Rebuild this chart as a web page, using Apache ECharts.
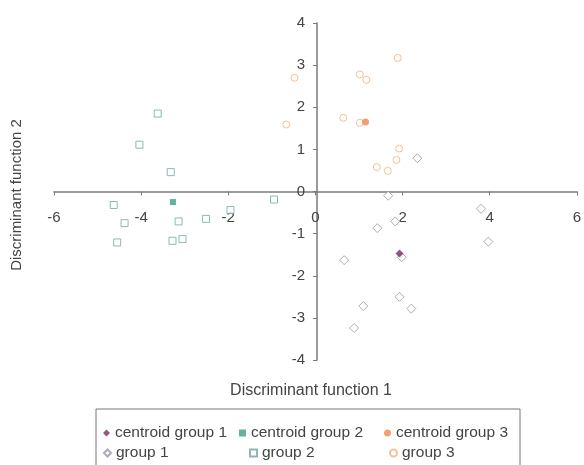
<!DOCTYPE html>
<html>
<head>
<meta charset="utf-8">
<script src="https://cdn.jsdelivr.net/npm/echarts@6/dist/echarts.min.js"></script>
<style>
  html, body { margin: 0; padding: 0; background: #fff; }
  #main { width: 584px; height: 465px; }
</style>
</head>
<body>
<div id="main"></div>
<script>
// values
const xTicks = [-6, 6, 2];
const yTicks = [-4, 4, 1];
const group1 = [[2.34, 0.79], [1.67, -0.1], [3.80, -0.41], [1.83, -0.71], [1.42, -0.87], [3.97, -1.19],
  [0.66, -1.63], [1.98, -1.56], [1.93, -2.5], [1.10, -2.72], [2.20, -2.78], [0.89, -3.24]];
const group2 = [[-3.62, 1.85], [-4.04, 1.11], [-3.32, 0.46], [-4.63, -0.32], [-4.38, -0.75], [-4.55, -1.21],
  [-3.14, -0.71], [-3.28, -1.17], [-3.05, -1.13], [-2.51, -0.65], [-1.95, -0.44], [-0.95, -0.19]];
const group3 = [[1.89, 3.17], [1.02, 2.78], [1.17, 2.65], [-0.48, 2.70], [-0.67, 1.59], [0.64, 1.75],
  [1.02, 1.63], [1.92, 1.02], [1.86, 0.75], [1.41, 0.58], [1.66, 0.49]];
const centroid1 = [[1.93, -1.47]];
const centroid2 = [[-3.27, -0.25]];
const centroid3 = [[1.15, 1.65]];

const font = "Liberation Sans";
const axisCol = "#7a7a7a";
const textCol = "#444";

const chart = echarts.init(document.getElementById("main"));

// plot box; the axes are shifted in to cross at the origin
const gLeft = 54, gRight = 4, gTop = 23, gBottom = 105;
const plotW = 584 - gLeft - gRight, plotH = 465 - gTop - gBottom;
const yAxisShift = plotW * (0 - xTicks[0]) / (xTicks[1] - xTicks[0]);
const xAxisShift = plotH * (0 - yTicks[0]) / (yTicks[1] - yTicks[0]);

function hollow(name, data, symbol, col, size) {
  return {
    name: name, type: "scatter", data: data, symbol: symbol, symbolSize: size,
    itemStyle: { color: "#fff", borderColor: col, borderWidth: 1 }, z: 2
  };
}
function filled(name, data, symbol, col, size) {
  return {
    name: name, type: "scatter", data: data, symbol: symbol, symbolSize: size,
    itemStyle: { color: col }, z: 3
  };
}

// one legend per slot so the two rows line up in columns
const legendSlots = [
  ["centroid group 1", 98, 420], ["centroid group 2", 234, 420], ["centroid group 3", 379, 420],
  ["group 1", 98, 440], ["group 2", 244, 440], ["group 3", 384, 440]
];

chart.setOption({
  animation: false,
  textStyle: { fontFamily: font },
  grid: { left: gLeft, right: gRight, top: gTop, bottom: gBottom },
  xAxis: {
    type: "value", min: xTicks[0], max: xTicks[1], interval: xTicks[2],
    offset: -xAxisShift,
    axisLine: { onZero: false, lineStyle: { color: axisCol, width: 1.5 } },
    axisTick: { show: true, length: 4, lineStyle: { color: axisCol } },
    axisLabel: { color: textCol, fontSize: 15, margin: 19, fontFamily: font },
    splitLine: { show: false }
  },
  yAxis: {
    type: "value", min: yTicks[0], max: yTicks[1], interval: yTicks[2],
    offset: -yAxisShift,
    axisLine: { onZero: false, lineStyle: { color: axisCol, width: 1.5 } },
    axisTick: { show: true, length: 4, lineStyle: { color: axisCol } },
    axisLabel: { color: textCol, fontSize: 15, margin: 12, fontFamily: font },
    splitLine: { show: false }
  },
  legend: legendSlots.map(function (s) {
    return {
      data: [s[0]], left: s[1], top: s[2], itemWidth: 7, itemHeight: 7, itemGap: 4,
      textStyle: { color: textCol, fontSize: 15.5, fontFamily: font }
    };
  }),
  graphic: [
    { type: "rect", shape: { x: 96, y: 409, width: 424, height: 70 },
      style: { fill: "none", stroke: "#777", lineWidth: 1 }, silent: true },
    { type: "text", x: 311, y: 391,
      style: { text: "Discriminant function 1", fill: textCol, font: "16px " + font,
        align: "center", verticalAlign: "middle" } },
    { type: "text", x: 17, y: 195, rotation: Math.PI / 2,
      style: { text: "Discriminant function 2", fill: textCol, font: "15px " + font,
        align: "center", verticalAlign: "middle" } }
  ],
  series: [
    filled("centroid group 1", centroid1, "diamond", "#7a2d62", 8),
    filled("centroid group 2", centroid2, "rect", "#3f9e88", 6),
    filled("centroid group 3", centroid3, "circle", "#f08a50", 7),
    hollow("group 1", group1, "diamond", "#9a96a6", 9),
    hollow("group 2", group2, "rect", "#6fa7a5", 7),
    hollow("group 3", group3, "circle", "#f1b27a", 7)
  ]
});
</script>
</body>
</html>
